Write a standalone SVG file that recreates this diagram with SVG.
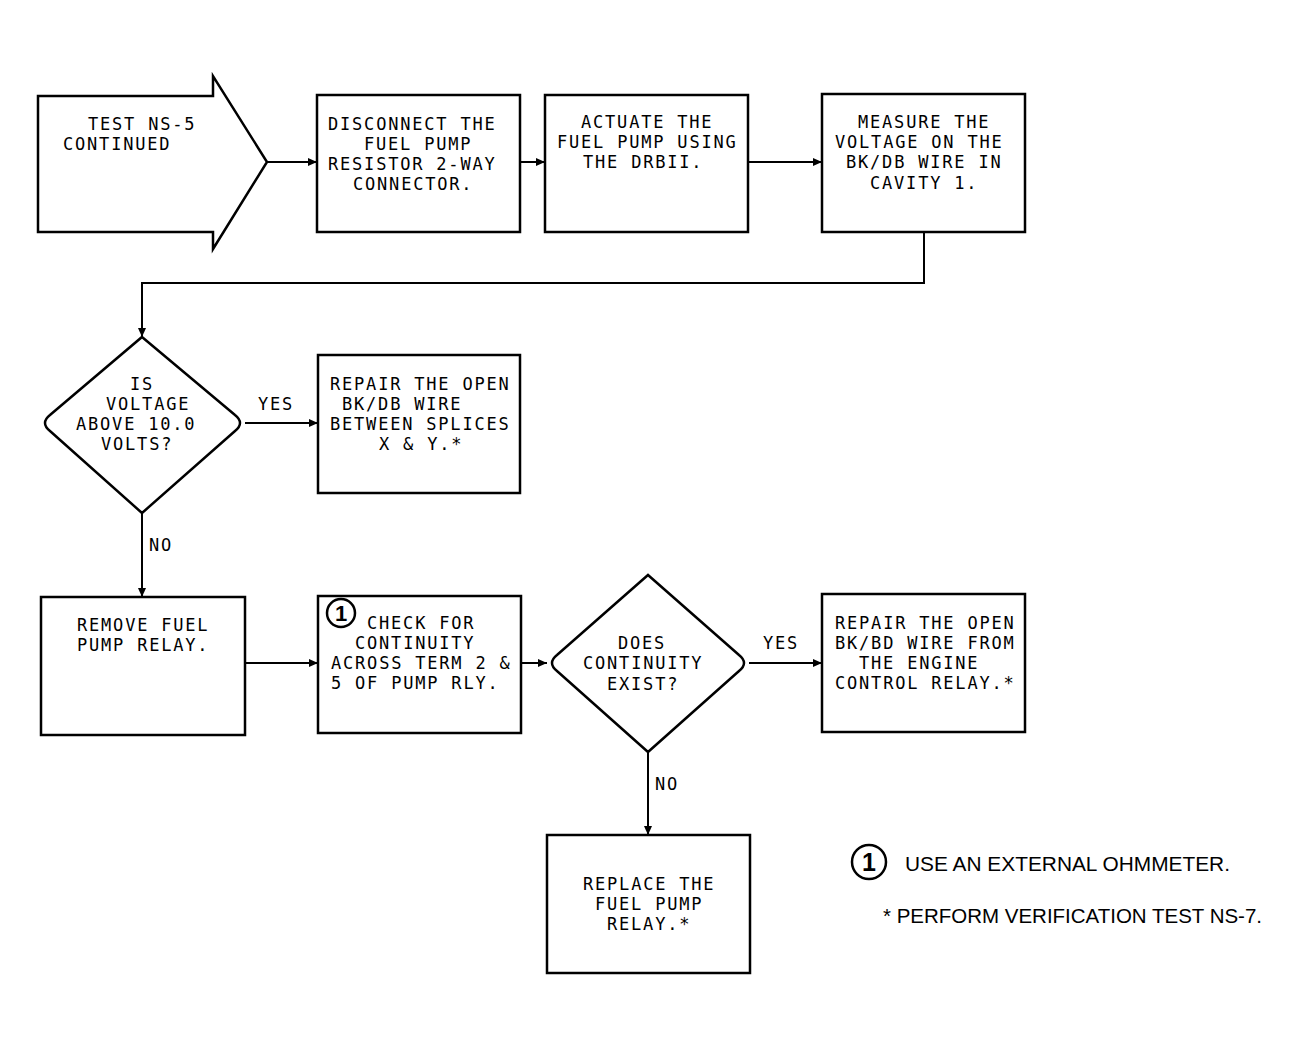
<svg xmlns="http://www.w3.org/2000/svg" width="1298" height="1050" viewBox="0 0 1298 1050">
<style>
.box{fill:#fff;stroke:#000;stroke-width:2.5}
.t{font-family:"DejaVu Sans Mono","Liberation Mono",monospace;font-size:17px;letter-spacing:1.8px;fill:#000}
.c{fill:none;stroke:#000;stroke-width:2}
.lg{font-family:"Liberation Sans",Arial,sans-serif;font-size:21px;fill:#000}
.num{font-family:"Liberation Sans",Arial,sans-serif;font-weight:bold;fill:#000;text-anchor:middle}
</style>
<defs>
<marker id="ah" markerUnits="userSpaceOnUse" markerWidth="10" markerHeight="8" refX="9" refY="4" orient="auto">
<path d="M0,0 L9,4 L0,8 Z" fill="#000"/>
</marker>
</defs>
<rect width="1298" height="1050" fill="#fff"/>
<g id="connectors">
<line class="c" x1="267" y1="162" x2="317" y2="162" marker-end="url(#ah)"/>
<line class="c" x1="520" y1="162" x2="545" y2="162" marker-end="url(#ah)"/>
<line class="c" x1="748" y1="162" x2="822" y2="162" marker-end="url(#ah)"/>
<polyline class="c" points="924,232 924,283 142,283 142,337" marker-end="url(#ah)"/>
<line class="c" x1="245" y1="423" x2="318" y2="423" marker-end="url(#ah)"/>
<line class="c" x1="142" y1="513" x2="142" y2="597" marker-end="url(#ah)"/>
<line class="c" x1="245" y1="663" x2="318" y2="663" marker-end="url(#ah)"/>
<line class="c" x1="521" y1="663" x2="547" y2="663" marker-end="url(#ah)"/>
<line class="c" x1="749" y1="663" x2="822" y2="663" marker-end="url(#ah)"/>
<line class="c" x1="648" y1="752" x2="648" y2="835" marker-end="url(#ah)"/>
<text class="t" x="258" y="410">YES</text>
<text class="t" x="149" y="551">NO</text>
<text class="t" x="763" y="649">YES</text>
<text class="t" x="655" y="790">NO</text>
</g>
<g id="start">
<polygon class="box" points="38,96 213,96 213,76 267,162 213,249 213,232 38,232"/>
<text class="t" x="88" y="130">TEST NS-5</text>
<text class="t" x="63" y="150">CONTINUED</text>
</g>
<g id="disconnect">
<rect class="box" x="317" y="95" width="203" height="137"/>
<text class="t" x="328" y="130">DISCONNECT THE</text>
<text class="t" x="364" y="150">FUEL PUMP</text>
<text class="t" x="328" y="170">RESISTOR 2-WAY</text>
<text class="t" x="353" y="190">CONNECTOR.</text>
</g>
<g id="actuate">
<rect class="box" x="545" y="95" width="203" height="137"/>
<text class="t" x="581" y="128">ACTUATE THE</text>
<text class="t" x="557" y="148">FUEL PUMP USING</text>
<text class="t" x="583" y="168">THE DRBII.</text>
</g>
<g id="measure">
<rect class="box" x="822" y="94" width="203" height="138"/>
<text class="t" x="858" y="128">MEASURE THE</text>
<text class="t" x="835" y="148">VOLTAGE ON THE</text>
<text class="t" x="846" y="168">BK/DB WIRE IN</text>
<text class="t" x="870" y="189">CAVITY 1.</text>
</g>
<g id="decision1">
<path class="box" d="M142,337 L235,415 Q245,423 235,431 L142,513 L50,431 Q40,423 50,415 Z"/>
<text class="t" x="130" y="390">IS</text>
<text class="t" x="106" y="410">VOLTAGE</text>
<text class="t" x="76" y="430">ABOVE 10.0</text>
<text class="t" x="101" y="450">VOLTS?</text>
</g>
<g id="repair1">
<rect class="box" x="318" y="355" width="202" height="138"/>
<text class="t" x="330" y="390">REPAIR THE OPEN</text>
<text class="t" x="342" y="410">BK/DB WIRE</text>
<text class="t" x="330" y="430">BETWEEN SPLICES</text>
<text class="t" x="379" y="450">X &amp; Y.*</text>
</g>
<g id="remove">
<rect class="box" x="41" y="597" width="204" height="138"/>
<text class="t" x="77" y="631">REMOVE FUEL</text>
<text class="t" x="77" y="651">PUMP RELAY.</text>
</g>
<g id="check">
<rect class="box" x="318" y="596" width="203" height="137"/>
<circle cx="341" cy="613" r="14" fill="none" stroke="#000" stroke-width="2.5"/>
<text class="num" x="341" y="621" font-size="22">1</text>
<text class="t" x="367" y="629">CHECK FOR</text>
<text class="t" x="355" y="649">CONTINUITY</text>
<text class="t" x="331" y="669">ACROSS TERM 2 &amp;</text>
<text class="t" x="331" y="689">5 OF PUMP RLY.</text>
</g>
<g id="decision2">
<path class="box" d="M648,575 L739,655 Q749,663 739,671 L648,752 L557,671 Q547,663 557,655 Z"/>
<text class="t" x="618" y="649">DOES</text>
<text class="t" x="583" y="669">CONTINUITY</text>
<text class="t" x="607" y="690">EXIST?</text>
</g>
<g id="repair2">
<rect class="box" x="822" y="594" width="203" height="138"/>
<text class="t" x="835" y="629">REPAIR THE OPEN</text>
<text class="t" x="835" y="649">BK/BD WIRE FROM</text>
<text class="t" x="859" y="669">THE ENGINE</text>
<text class="t" x="835" y="689">CONTROL RELAY.*</text>
</g>
<g id="replace">
<rect class="box" x="547" y="835" width="203" height="138"/>
<text class="t" x="583" y="890">REPLACE THE</text>
<text class="t" x="595" y="910">FUEL PUMP</text>
<text class="t" x="607" y="930">RELAY.*</text>
</g>
<g id="legend">
<circle cx="869" cy="862" r="17" fill="none" stroke="#000" stroke-width="2.5"/>
<text class="num" x="869" y="871" font-size="25">1</text>
<text class="lg" x="905" y="871" textLength="325" lengthAdjust="spacingAndGlyphs">USE AN EXTERNAL OHMMETER.</text>
<text class="lg" x="883" y="923" textLength="379" lengthAdjust="spacingAndGlyphs">* PERFORM VERIFICATION TEST NS-7.</text>
</g>
</svg>
